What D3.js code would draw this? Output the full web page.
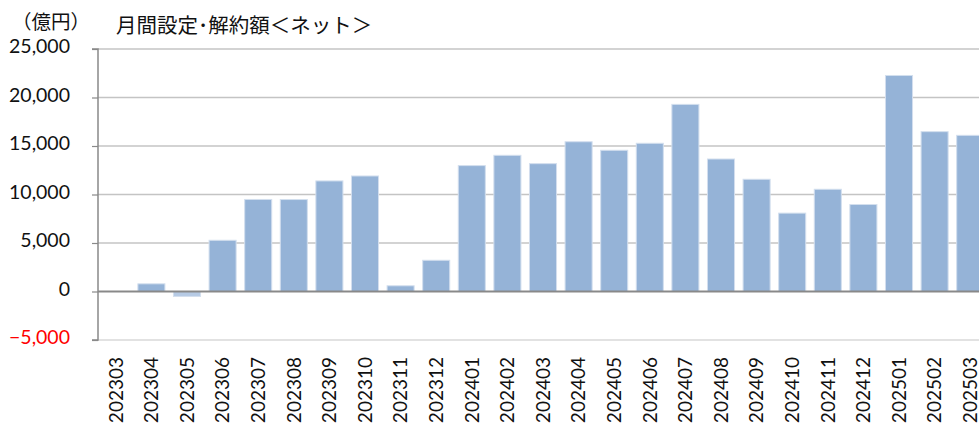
<!DOCTYPE html>
<html><head><meta charset="utf-8">
<script src="https://cdn.jsdelivr.net/npm/d3@7"></script>
<style>
html,body{margin:0;padding:0;background:#fff;overflow:hidden;}
svg{display:block;}
</style></head>
<body>
<svg id="chart" width="979" height="423"></svg>
<script>
const categories = ["202303","202304","202305","202306","202307","202308","202309","202310","202311","202312",
  "202401","202402","202403","202404","202405","202406","202407","202408","202409","202410","202411","202412",
  "202501","202502","202503"];
const netValues = [0, 790, -510, 5280, 9490, 9480, 11400, 11910, 590, 3220,
  12980, 14040, 13180, 15440, 14560, 15280, 19290, 13660, 11570, 8080, 10540, 8970,
  22270, 16480, 16100];
const yTicks = [-5000, 0, 5000, 10000, 15000, 20000, 25000];
const titleText = "月間設定･解約額＜ネット＞";
const unitText = "（億円）";

const svg = d3.select("#chart");
const plotL = 98, plotR = 988, plotT = 49, plotB = 340;

const x = d3.scaleBand().domain(categories).range([plotL, plotR]).paddingInner(0.24).paddingOuter(0.12);
const y = d3.scaleLinear().domain([-5000, 25000]).range([plotB, plotT]);

// gridlines
svg.append("g").selectAll("line").data(yTicks.filter(d => d !== 0)).join("line")
  .attr("x1", plotL).attr("x2", 979)
  .attr("y1", d => y(d)).attr("y2", d => y(d))
  .attr("stroke", d => d === -5000 ? "#d9d9d9" : "#c4c4c4").attr("stroke-width", 1.5);

// y axis
const yAxis = d3.axisLeft(y).tickValues(yTicks).tickSize(6).tickFormat(d3.format(","));
const ya = svg.append("g").attr("transform", `translate(${plotL},0)`).call(yAxis);
ya.select(".domain").attr("stroke", "#898989").attr("stroke-width", 1.5).attr("d", `M-6,${y(25000)}H0V${y(-5000)}H-6`);
ya.selectAll(".tick line").attr("stroke", "#898989").attr("stroke-width", 1.2);
ya.selectAll(".tick text")
  .attr("x", -28).attr("dy", "0.2em")
  .attr("font-family", "Lato, 'Open Sans', sans-serif").attr("font-size", 19.5)
  .attr("fill", d => d < 0 ? "#ff0000" : "#111");

// bars
svg.append("g").selectAll("rect").data(categories.map((c, i) => ({c, v: netValues[i]})).filter(d => d.v !== 0))
  .join("rect")
  .attr("x", d => x(d.c))
  .attr("width", x.bandwidth())
  .attr("y", d => y(Math.max(0, d.v)))
  .attr("height", d => Math.abs(y(d.v) - y(0)))
  .attr("fill", d => d.v < 0 ? "#b6cae4" : "#95b3d7")
  .attr("stroke", "#d3dfee").attr("stroke-width", 1);

// zero line
svg.append("line").attr("x1", plotL).attr("x2", 979).attr("y1", y(0)).attr("y2", y(0))
  .attr("stroke", "#898989").attr("stroke-width", 2);

// x labels
svg.append("g").selectAll("text").data(categories).join("text")
  .attr("transform", d => `translate(${x(d) + x.bandwidth() / 2},357) rotate(-90)`)
  .attr("text-anchor", "end").attr("dy", "0.36em")
  .attr("font-family", "Lato, 'Open Sans', sans-serif").attr("font-size", 19).attr("fill", "#111")
  .text(d => d);

// unit and title
svg.append("text").attr("x", 12).attr("y", 29)
  .attr("font-family", "'Noto Sans CJK JP', sans-serif").attr("font-size", 19.5).attr("fill", "#111")
  .text(unitText);
svg.append("text").attr("x", 116).attr("y", 33)
  .attr("font-family", "'Noto Sans CJK JP', sans-serif").attr("font-size", 20.5).attr("fill", "#111")
  .text(titleText);
</script>
</body></html>
